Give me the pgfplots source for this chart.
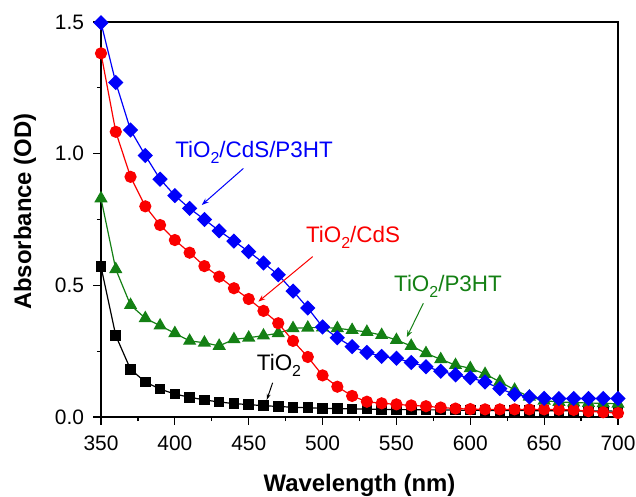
\documentclass[border=0pt]{standalone}
\usepackage{fontspec}
\setmainfont{Liberation Sans}
\usepackage{pgfplots}
\pgfplotsset{compat=1.18}
\usetikzlibrary{arrows.meta}
\definecolor{cblue}{RGB}{0,0,250}
\definecolor{cred}{RGB}{250,0,0}
\definecolor{cgreen}{RGB}{20,128,20}
\newcommand\subtwo{\raisebox{-6bp}{\fontsize{16}{16}\selectfont 2}}
\begin{document}
\begin{tikzpicture}
\useasboundingbox (-101bp,-80bp) rectangle (535bp,417bp);
\begin{axis}[
  at={(0,0)}, anchor=south west,
  scale only axis, width=517bp, height=395bp,
  xmin=350, xmax=700, ymin=0, ymax=1.5,
  xtick={350,400,...,700}, ytick={0,0.5,1,1.5},
  minor x tick num=1, minor y tick num=1,
  tick pos=left, tick align=outside,
  major tick length=7.5bp, minor tick length=4bp,
  axis line style={line width=1.3bp},
  every tick/.style={black, line width=1.2bp},
  tick label style={font=\fontsize{21}{25}\selectfont},
  /pgf/number format/assume math mode=true,
  y tick label style={xshift=-6bp, /pgf/number format/.cd, fixed, fixed zerofill, precision=1},
  x tick label style={yshift=-8bp, /pgf/number format/.cd, set thousands separator={}},
  xlabel={Wavelength (nm)}, ylabel={Absorbance (OD)},
  label style={font=\fontsize{24}{28}\selectfont\bfseries},
  xlabel style={at={(axis description cs:0.5,0)}, anchor=center, yshift=-68bp},
  ylabel style={at={(axis description cs:0,0.52)}, anchor=center, yshift=76bp},
  every axis plot/.append style={line width=1.2bp},
  clip=false,
]
% TiO2
\addplot[black, mark=square*, mark size=4.7bp] coordinates {
(350,0.571)(360,0.309)(370,0.181)(380,0.133)(390,0.106)(400,0.087)(410,0.075)(420,0.065)(430,0.057)(440,0.051)(450,0.047)(460,0.043)(470,0.040)(480,0.037)(490,0.035)(500,0.033)(510,0.032)(520,0.031)(530,0.030)(540,0.029)(550,0.028)(560,0.028)(570,0.027)(580,0.027)(590,0.026)(600,0.026)(610,0.025)(620,0.025)(630,0.025)(640,0.024)(650,0.024)(660,0.024)(670,0.023)(680,0.023)(690,0.023)(700,0.022)};
% TiO2/P3HT
\addplot[cgreen, mark=triangle*, mark size=6.5bp] coordinates {
(350,0.830)(360,0.561)(370,0.425)(380,0.375)(390,0.347)(400,0.318)(410,0.289)(420,0.282)(430,0.270)(440,0.295)(450,0.301)(460,0.309)(470,0.318)(480,0.337)(490,0.339)(500,0.340)(510,0.337)(520,0.330)(530,0.323)(540,0.311)(550,0.292)(560,0.270)(570,0.242)(580,0.219)(590,0.197)(600,0.185)(610,0.163)(620,0.134)(630,0.103)(640,0.077)(650,0.062)(660,0.057)(670,0.055)(680,0.053)(690,0.052)(700,0.050)};
% TiO2/CdS
\addplot[cred, mark=*, mark size=5.5bp] coordinates {
(350,1.381)(360,1.083)(370,0.912)(380,0.800)(390,0.729)(400,0.672)(410,0.624)(420,0.573)(430,0.533)(440,0.489)(450,0.448)(460,0.403)(470,0.356)(480,0.289)(490,0.228)(500,0.158)(510,0.115)(520,0.080)(530,0.058)(540,0.052)(550,0.048)(560,0.044)(570,0.041)(580,0.036)(590,0.032)(600,0.030)(610,0.029)(620,0.029)(630,0.029)(640,0.029)(650,0.029)(660,0.028)(670,0.027)(680,0.022)(690,0.018)(700,0.015)};
% TiO2/CdS/P3HT
\addplot[cblue, mark=square*, mark size=4.8bp, mark options={rotate=45}] coordinates {
(350,1.497)(360,1.270)(370,1.090)(380,0.993)(390,0.903)(400,0.841)(410,0.792)(420,0.750)(430,0.707)(440,0.668)(450,0.628)(460,0.585)(470,0.540)(480,0.478)(490,0.414)(500,0.342)(510,0.301)(520,0.267)(530,0.245)(540,0.230)(550,0.223)(560,0.207)(570,0.191)(580,0.174)(590,0.160)(600,0.149)(610,0.133)(620,0.108)(630,0.086)(640,0.076)(650,0.071)(660,0.070)(670,0.070)(680,0.070)(690,0.070)(700,0.070)};
% annotations
\node[text=cblue, font=\fontsize{22.5}{26}\selectfont] at (axis cs:453.6,1.006) {TiO\subtwo/CdS/P3HT};
\draw[cblue, line width=1bp, -{Stealth[length=7bp,width=5bp]}] (axis cs:446.4,0.944) -- (axis cs:418.2,0.805);
\node[text=cred, font=\fontsize{22.5}{26}\selectfont] at (axis cs:520.6,0.684) {TiO\subtwo/CdS};
\draw[cred, line width=1bp, -{Stealth[length=7bp,width=5bp]}] (axis cs:493.3,0.609) -- (axis cs:456.5,0.438);
\node[text=cgreen, font=\fontsize{22.5}{26}\selectfont] at (axis cs:584.9,0.497) {TiO\subtwo/P3HT};
\draw[cgreen, line width=1bp, -{Stealth[length=7bp,width=5bp]}] (axis cs:568.2,0.432) -- (axis cs:557,0.303);
\node[text=black, font=\fontsize{22.5}{26}\selectfont] at (axis cs:470.5,0.197) {TiO\subtwo};
\draw[black, line width=1bp, -{Stealth[length=6bp,width=4bp]}] (axis cs:466.2,0.13) -- (axis cs:462.2,0.065);
\end{axis}
\end{tikzpicture}
\end{document}
